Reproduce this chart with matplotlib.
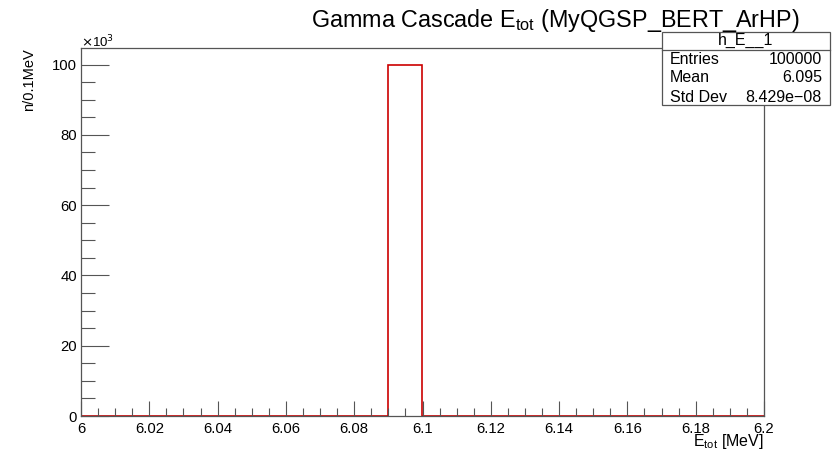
import numpy as np
import matplotlib
matplotlib.use("Agg")
import matplotlib.pyplot as plt
from matplotlib.ticker import MultipleLocator, FuncFormatter

plt.rcParams['font.family'] = ['Liberation Sans', 'DejaVu Sans']

# histogram data: 20 bins of 0.01 MeV from 6.0 to 6.2
bin_edges = np.round(np.arange(6.0, 6.2001, 0.01), 3)
counts = np.zeros(20)
counts[9] = 100000  # bin 6.09-6.10

stats_name = "h_E__1"
stats_rows = [("Entries", "100000"), ("Mean", "6.095"), ("Std Dev", "8.429e\u221208")]

W, H = 835, 450
fig = plt.figure(figsize=(W / 100, H / 100), dpi=100)
L, R, T, B = 81, 764, 48, 416
ax = fig.add_axes([L / W, 1 - B / H, (R - L) / W, (B - T) / H])

ax.stairs(counts / 1e3, bin_edges, color='#cc0000', lw=1.2)
ax.set_xlim(6.0, 6.2)
ax.set_ylim(0, 104.7)

for s in ax.spines.values():
    s.set_color('#555555')
    s.set_linewidth(0.9)

ax.xaxis.set_major_locator(MultipleLocator(0.02))
ax.xaxis.set_minor_locator(MultipleLocator(0.005))
ax.yaxis.set_major_locator(MultipleLocator(20))
ax.yaxis.set_minor_locator(MultipleLocator(5))
ax.xaxis.set_major_formatter(FuncFormatter(lambda v, p: f"{v:.2f}".rstrip('0').rstrip('.')))
ax.yaxis.set_major_formatter(FuncFormatter(lambda v, p: f"{v:g}"))

ax.tick_params(axis='x', which='major', direction='in', length=11, width=0.8, color='#555555',
               labelsize=10.7, pad=4)
ax.tick_params(axis='x', which='minor', direction='in', length=6, width=0.8, color='#555555')
ax.tick_params(axis='y', which='major', direction='in', length=20, width=0.8, color='#555555',
               labelsize=10.7, pad=3)
ax.tick_params(axis='y', which='minor', direction='in', length=10, width=0.8, color='#555555')

# exponent label
fig.text(L / W, 1 - 47 / H, r"$\times$10$^3$", fontsize=9.5, ha='left', va='baseline')

# axis titles
fig.text(764 / W, 1 - 446 / H, r"E$_{\mathregular{tot}}$ [MeV]", fontsize=11.5, ha='right', va='baseline')
fig.text(29 / W, 1 - 48 / H, "n/0.1MeV", fontsize=10.5, rotation=90, ha='center', va='top')

# title
fig.text(800 / W, 1 - 27 / H, r"Gamma Cascade E$_{\mathregular{tot}}$ (MyQGSP_BERT_ArHP)",
         fontsize=16.8, ha='right', va='baseline')

# stats box
bx0, bx1, by0, by1, sep = 662, 830, 32, 105, 50
box = plt.Rectangle((bx0 / W, 1 - by1 / H), (bx1 - bx0) / W, (by1 - by0) / H,
                    transform=fig.transFigure, facecolor='white', edgecolor='#555555', lw=0.9)
fig.add_artist(box)
fig.add_artist(plt.Line2D([bx0 / W, bx1 / W], [1 - sep / H, 1 - sep / H],
                          transform=fig.transFigure, color='#555555', lw=0.9))
fig.text((bx0 + bx1) / 2 / W, 1 - 40 / H, stats_name, fontsize=11.5, ha='center', va='center')
for i, (k, v) in enumerate(stats_rows):
    y = 1 - (59 + i * 19) / H
    fig.text((bx0 + 8) / W, y, k, fontsize=11.5, ha='left', va='center')
    fig.text((bx1 - 8) / W, y, v, fontsize=11.5, ha='right', va='center')

fig.savefig("out.png", dpi=100)
